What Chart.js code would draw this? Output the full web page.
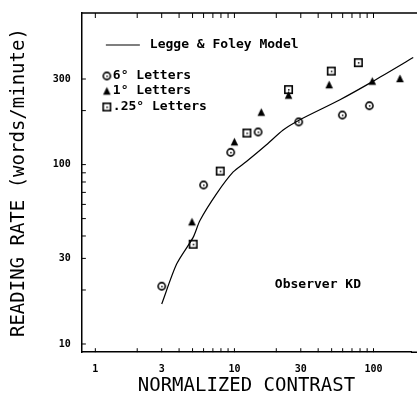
<!DOCTYPE html>
<html>
<head>
<meta charset="utf-8">
<script src="https://cdn.jsdelivr.net/npm/chart.js@4"></script>
<style>
  html, body { margin: 0; padding: 0; background: #fff; }
  #wrap { width: 417px; height: 411px; }
</style>
</head>
<body>
<div id="wrap"><canvas id="readingChart"></canvas></div>
<script>
// Legge & Foley model curve
const modelX = [3.0, 3.84, 5.05, 5.65, 7.45, 9.8, 12.2, 17, 22.4, 29.6, 57.4, 99.7, 193];
const modelY = [16.7, 27.9, 39.3, 48.8, 68.9, 91, 104, 129, 156, 178, 230, 292, 395];

// 6 deg letters (circle with dot)
const sixX = [3.0, 6.0, 9.4, 14.8, 29, 59.7, 93.3];
const sixY = [21, 77, 117, 152, 173, 189, 213];

// 1 deg letters (triangle)
const oneX = [4.95, 10, 15.6, 24.5, 48, 98, 155];
const oneY = [48, 134, 196, 244, 279, 292, 302];

// .25 deg letters (square with dot)
const quarterX = [5.05, 7.9, 12.3, 24.5, 49.7, 77.8];
const quarterY = [36, 92, 150, 262, 332, 370];

const xLabels = [1, 3, 10, 30, 100];
const yLabels = [10, 30, 100, 300];
const xTicks = [1, 2, 3, 4, 5, 6, 7, 8, 9, 10, 20, 30, 40, 50, 60, 70, 80, 90, 100];
const yTicks = [10, 20, 30, 40, 50, 60, 70, 80, 90, 100, 200, 300];

function pts(xs, ys) {
    return xs.map((x, i) => ({ x: x, y: ys[i] }));
}

function makeMarker(kind) {
    const c = document.createElement("canvas");
    c.width = 11; c.height = 11;
    const g = c.getContext("2d");
    g.strokeStyle = "#000"; g.fillStyle = "#000"; g.lineWidth = 1.6;
    if (kind === "circle") {
        g.beginPath(); g.arc(5.5, 5.5, 3.6, 0, Math.PI * 2); g.stroke();
        g.fillRect(5, 5, 1.5, 1.5);
    } else if (kind === "square") {
        g.strokeRect(1.8, 1.8, 7.4, 7.4);
        g.fillRect(5, 5, 1.5, 1.5);
    } else {
        g.beginPath(); g.moveTo(5.5, 1.5); g.lineTo(9.3, 9.3); g.lineTo(1.7, 9.3); g.closePath(); g.fill();
    }
    return c;
}

const circleMark = makeMarker("circle");
const squareMark = makeMarker("square");
const triMark = makeMarker("tri");

const monoFont = "'DejaVu Sans Mono', monospace";

const framePlugin = {
    id: "frame",
    afterDraw(chart) {
        const ctx = chart.ctx;
        const a = chart.chartArea;
        const xs = chart.scales.x, ys = chart.scales.y;
        ctx.save();
        ctx.strokeStyle = "#000";
        ctx.lineWidth = 1.5;
        ctx.beginPath();
        ctx.moveTo(a.left, a.top); ctx.lineTo(chart.width, a.top);
        ctx.moveTo(a.right, a.bottom); ctx.lineTo(chart.width, a.bottom);
        ctx.stroke();
        ctx.lineWidth = 1;
        ctx.beginPath();
        xTicks.forEach(v => {
            const px = xs.getPixelForValue(v);
            ctx.moveTo(px, a.bottom); ctx.lineTo(px, a.bottom - 4);
            ctx.moveTo(px, a.top); ctx.lineTo(px, a.top + 5);
        });
        yTicks.forEach(v => {
            const py = ys.getPixelForValue(v);
            ctx.moveTo(a.left, py); ctx.lineTo(a.left + 4, py);
        });
        ctx.stroke();

        // legend drawn inside the plot
        ctx.lineWidth = 1.2;
        ctx.beginPath(); ctx.moveTo(a.left + 24, 45); ctx.lineTo(a.left + 58, 45); ctx.stroke();
        ctx.fillStyle = "#000";
        ctx.font = "bold 13px " + monoFont;
        ctx.textBaseline = "middle";
        ctx.fillText("Legge & Foley Model", a.left + 68, 45);
        const rows = [[circleMark, "6° Letters", 76], [triMark, "1° Letters", 91], [squareMark, ".25° Letters", 107]];
        rows.forEach(r => {
            ctx.drawImage(r[0], a.left + 19.5, r[2] - 5.5);
            ctx.fillText(r[1], a.left + 31, r[2]);
        });
        ctx.fillText("Observer KD", a.left + 193, 285);
        ctx.restore();
    }
};

const ctx = document.getElementById("readingChart").getContext("2d");

new Chart(ctx, {
    type: "scatter",
    data: {
        datasets: [
            {
                label: "Legge & Foley Model",
                data: pts(modelX, modelY),
                showLine: true,
                clip: false,
                borderColor: "#000",
                borderWidth: 1.2,
                pointRadius: 0,
                tension: 0.25
            },
            {
                label: "6° Letters",
                data: pts(sixX, sixY),
                pointStyle: circleMark,
                pointRadius: 5
            },
            {
                label: "1° Letters",
                data: pts(oneX, oneY),
                pointStyle: triMark,
                pointRadius: 5
            },
            {
                label: ".25° Letters",
                data: pts(quarterX, quarterY),
                pointStyle: squareMark,
                pointRadius: 5
            }
        ]
    },
    options: {
        responsive: true,
        maintainAspectRatio: false,
        animation: false,
        layout: { padding: { top: 13, right: 0, left: 4, bottom: 14 } },
        plugins: {
            legend: { display: false },
            tooltip: { enabled: false }
        },
        scales: {
            x: {
                type: "logarithmic",
                min: 0.8,
                max: 186,
                afterFit: s => { s.paddingRight = 0; },
                grid: { display: false, drawTicks: false },
                border: { display: true, color: "#000", width: 1.5 },
                ticks: {
                    autoSkip: false,
                    maxRotation: 0,
                    padding: 11,
                    color: "#000",
                    font: { family: monoFont, size: 10, weight: "bold" },
                    callback: v => xLabels.some(l => Math.abs(l - v) < 1e-6) ? String(v) : ""
                },
                title: {
                    display: true,
                    text: "NORMALIZED CONTRAST",
                    color: "#000",
                    padding: { top: -12, bottom: 0 },
                    font: { family: monoFont, size: 19 }
                }
            },
            y: {
                type: "logarithmic",
                min: 9,
                max: 700,
                afterFit: s => { s.paddingTop = 0; },
                grid: { display: false, drawTicks: false },
                border: { display: true, color: "#000", width: 1.5 },
                ticks: {
                    autoSkip: false,
                    padding: 11,
                    color: "#000",
                    font: { family: monoFont, size: 10, weight: "bold" },
                    callback: v => yLabels.some(l => Math.abs(l - v) < 1e-6) ? String(v) : ""
                },
                title: {
                    display: true,
                    text: "READING RATE (words/minute)",
                    color: "#000",
                    padding: { bottom: 11 },
                    font: { family: monoFont, size: 19 }
                }
            }
        }
    },
    plugins: [framePlugin]
});
</script>
</body>
</html>
